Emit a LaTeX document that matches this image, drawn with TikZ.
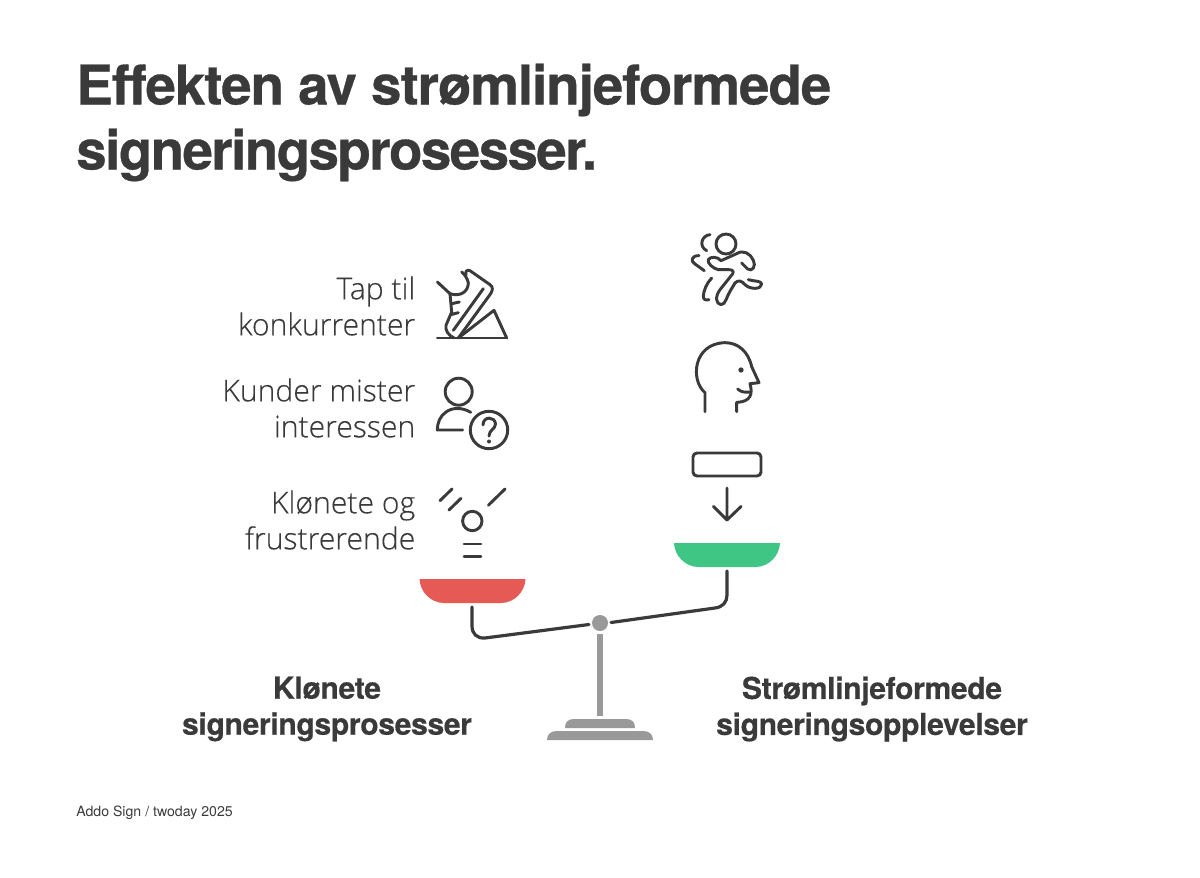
\documentclass[tikz,border=0pt]{standalone}
\usepackage{fontspec}
\setmainfont{TeX Gyre Heros}
\newfontfamily\lightfont[FakeBold=0.25]{Open Sans Light}
\newfontfamily\heavyfont[FakeBold=0.6,LetterSpace=-1.85]{TeX Gyre Heros Bold}
\newfontfamily\heavyfonttight[FakeBold=0.6,LetterSpace=-2.8]{TeX Gyre Heros Bold}
\newfontfamily\headfont[FakeBold=0.4,LetterSpace=-1.2]{TeX Gyre Heros Bold}
\definecolor{ink}{HTML}{3A3A3A}
\definecolor{rod}{HTML}{999999}
\definecolor{panred}{HTML}{E55A55}
\definecolor{pangreen}{HTML}{3FC685}
\tikzset{
  icon/.style={draw=ink,line width=2.2pt,line cap=round,line join=round},
  beam/.style={draw=ink,line width=2.4pt,line cap=round},
  titletext/.style={anchor=west,inner sep=0pt,text=ink},
  lbl/.style={anchor=east,inner sep=0pt,text=ink,font=\lightfont\fontsize{22.6}{27}\selectfont,align=right},
  head/.style={inner sep=0pt,text=ink,font=\headfont\fontsize{22.6}{27}\selectfont,align=center},
}
\begin{document}
\begin{tikzpicture}[x=0.75pt,y=-0.75pt]
\useasboundingbox (0,0) rectangle (1200,878);
\node[titletext,font=\heavyfont\fontsize{41}{41}\selectfont] (t1) at (76,90) {Effekten av strømlinjeformede};
\node[titletext,font=\heavyfonttight\fontsize{41}{41}\selectfont] (t2) at (76,155) {signeringsprosesser.};
\node[lbl] (l1) at (415.5,306) {Tap til\\konkurrenter};
\node[lbl] (l2) at (415.5,408) {Kunder mister\\interessen};
\node[lbl] (l3) at (415.5,520) {Klønete og\\frustrerende};
\node[head] (h1) at (327,709) {Klønete\\signeringsprosesser};
\node[head] (h2) at (872,709) {Strømlinjeformede\\signeringsopplevelser};
\node[anchor=west,inner sep=0pt,text=ink,font=\fontsize{10.6}{12}\selectfont] (src) at (76,812.5) {Addo Sign / twoday 2025};
% pans
\fill[panred] (419.5,579) -- (525.5,579) .. controls (525,592) and (514,603) .. (501,603) -- (444,603) .. controls (431,603) and (420,592) .. (419.5,579) -- cycle;
\fill[pangreen] (674,543) -- (780,543) .. controls (779.5,556) and (768.5,567) .. (755.5,567) -- (698.5,567) .. controls (685.5,567) and (674.5,556) .. (674,543) -- cycle;
% beam
\draw[beam] (472,607) -- (472,626) .. controls (472,634) and (477,638.5) .. (485,638) -- (589,624.5);
\draw[beam] (611,622.5) -- (715,608) .. controls (723,607) and (727,602) .. (727,595) -- (727,571);
\fill[rod] (600,623) circle (8);
\fill[rod] (597,634) rectangle (603,715.5);
\fill[rod] (565,728) .. controls (565,722) and (568,719) .. (574,719) -- (626,719) .. controls (632,719) and (635,722) .. (635,728) -- cycle;
\fill[rod] (547,740) .. controls (547,734) and (551,731) .. (557,731) -- (643,731) .. controls (649,731) and (653,734) .. (653,740) -- cycle;
% box + arrow
\draw[icon,rounded corners=3pt] (693,453) rectangle (761,476);
\draw[icon] (727,488) -- (727,520) (713.5,506.5) -- (727,520) -- (741,506.5);
% scattered
\draw[icon] (440,500.7) -- (452,489) (449,510) -- (461,498.3) (488.3,505.3) -- (505,489);
\draw[icon] (472.3,521) circle (9.7);
\draw[icon] (464,544) -- (481,544) (464,556.3) -- (481,556.3);
% person ?
\draw[icon] (458.7,391.7) circle (13.5);
\draw[icon] (470.7,412.3) .. controls (462,407) and (452,407.5) .. (446,412) .. controls (440,416) and (437.3,423) .. (437.3,430) -- (462.7,430);
\draw[icon] (489,430) circle (18.7);
\draw[icon] (483,425) .. controls (483,416) and (495,416) .. (495.5,424) .. controls (495.5,429) and (489,430) .. (489,436);
\fill[ink] (489,441.5) circle (2);
% head
\begin{scope}[shift={(670,220)},x=0.25pt,y=-0.25pt]
\draw[icon] (105,575) -- (105,518) .. controls (60,480) and (70,370) .. (165,368) .. controls (205,368) and (235,395) .. (245,440) -- (267,488) -- (240,491) .. controls (248,520) and (245,545) .. (200,547) -- (200,575);
\draw[icon] (203,507) .. controls (212,516) and (225,518) .. (240,516);
\fill[ink] (213,450) circle (8);
\end{scope}
% runner
\begin{scope}[shift={(685,228)},x=0.25pt,y=-0.25pt]
\draw[icon] (123,48) circle (30);
\draw[icon] (75,20) .. controls (50,22) and (40,55) .. (65,68);
\draw[icon] (42,83) .. controls (20,82) and (15,100) .. (30,108) -- (58,128);
\draw[icon] (170,105) -- (188,123) .. controls (202,134) and (214,112) .. (205,97) .. controls (197,77) and (175,64) .. (155,77) -- (108,98) .. controls (98,85) and (75,85) .. (70,95) .. controls (65,105) and (85,122) .. (100,125) -- (130,125) .. controls (150,125) and (147,135) .. (137,145) -- (105,185) .. controls (90,205) and (92,228) .. (108,230) .. controls (122,230) and (125,205) .. (135,190) -- (150,165) .. controls (160,155) and (170,158) .. (180,170) .. controls (195,185) and (230,185) .. (230,168) .. controls (230,158) and (205,160) .. (190,155);
\draw[icon] (80,150) .. controls (65,165) and (55,190) .. (55,205) .. controls (55,215) and (62,218) .. (72,215);
\end{scope}
% shoe
\begin{scope}[shift={(430,262)},x=0.25pt,y=-0.25pt]
\draw[icon] (22,228) -- (230,228);
\draw[icon] (85,228) -- (192,145) -- (230,228);
\draw[icon] (22,60) -- (60,95) .. controls (90,105) and (115,90) .. (115,62) .. controls (112,50) and (105,38) .. (95,30);
\draw[icon] (108,40) .. controls (105,28) and (110,22) .. (120,26) -- (180,68) .. controls (190,75) and (188,85) .. (182,95) -- (85,228);
\draw[icon] (160,80) -- (70,205);
\draw[icon] (60,95) -- (65,150) -- (48,190) .. controls (45,205) and (55,220) .. (72,228);
\draw[icon] (65,125) -- (88,120) (62,158) -- (85,152);
\end{scope}
\end{tikzpicture}
\end{document}
